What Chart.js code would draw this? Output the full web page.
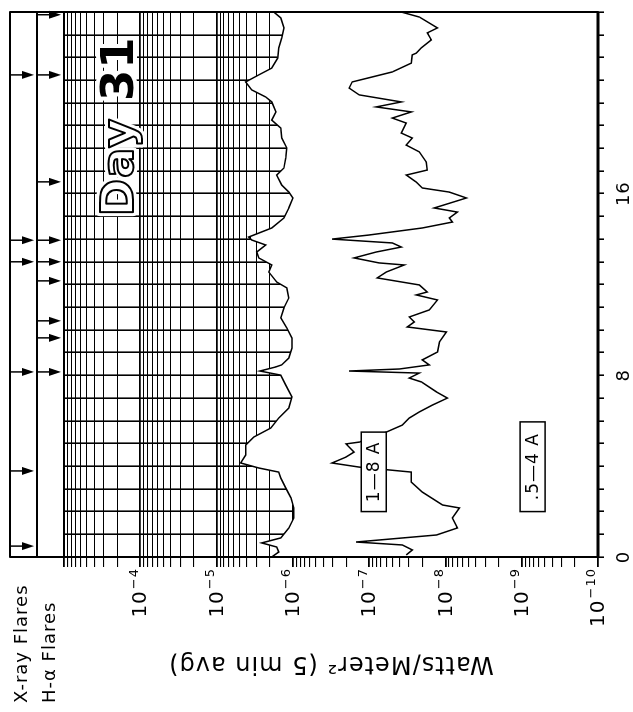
<!DOCTYPE html>
<html>
<head>
<meta charset="utf-8">
<script src="https://cdn.jsdelivr.net/npm/chart.js@4.4.0/dist/chart.umd.min.js"></script>
<style>
  html, body { margin: 0; padding: 0; background: #fff; overflow: hidden; }
  /* the plot is drawn the normal way and turned a quarter turn to the left */
  #wrap {
    position: absolute; left: 0; top: 0;
    width: 712px; height: 633px;
    transform-origin: 0 0;
    transform: translateY(712px) rotate(-90deg);
  }
</style>
</head>
<body>
<div id="wrap"><canvas id="goes" width="712" height="633"></canvas></div>
<script>
// upper trace (hours UT, W/m^2)
const upperHours = [0.0, 0.22, 0.44, 0.62, 0.84, 1.28, 1.72, 2.16, 2.60, 3.04, 3.48, 3.74, 3.92, 4.14, 4.49, 4.93, 5.28, 5.68, 6.12, 6.56, 7.05, 7.57, 8.01, 8.19, 8.37, 8.46, 8.76, 9.20, 9.64, 10.08, 10.53, 10.97, 11.41, 11.85, 12.11, 12.55, 12.86, 13.17, 13.43, 13.74, 13.96, 14.09, 14.49, 14.93, 15.37, 15.81, 16.07, 16.38, 16.82, 17.13, 17.57, 18.01, 18.45, 18.89, 19.24, 19.60, 20.04, 20.26, 20.57, 20.92, 21.23, 21.53, 21.97, 22.42, 22.86, 23.30, 23.74, 24.0];
const upperFlux = [1.89e-6, 1.53e-6, 1.63e-6, 2.56e-6, 1.44e-6, 1.13e-6, 9.7e-7, 9.7e-7, 1.06e-6, 1.24e-6, 1.44e-6, 1.53e-6, 2.80e-6, 4.83e-6, 4.15e-6, 4.15e-6, 3.26e-6, 1.95e-6, 1.53e-6, 1.13e-6, 1.03e-6, 1.24e-6, 1.44e-6, 2.7e-6, 1.67e-6, 1.40e-6, 1.13e-6, 1.03e-6, 1.03e-6, 1.20e-6, 1.44e-6, 1.31e-6, 1.13e-6, 1.20e-6, 1.63e-6, 2.07e-6, 1.89e-6, 2.80e-6, 2.98e-6, 2.27e-6, 3.46e-6, 3.79e-6, 1.89e-6, 1.31e-6, 1.13e-6, 1.0e-6, 1.13e-6, 1.40e-6, 1.63e-6, 1.31e-6, 1.24e-6, 1.20e-6, 1.40e-6, 1.44e-6, 1.89e-6, 1.67e-6, 1.89e-6, 2.27e-6, 3.46e-6, 4.15e-6, 2.80e-6, 1.89e-6, 1.58e-6, 1.53e-6, 1.40e-6, 1.31e-6, 1.44e-6, 1.78e-6];

// lower trace
const lowerHours = [0.09, 0.31, 0.53, 0.66, 0.97, 1.28, 1.72, 2.16, 2.29, 2.86, 3.30, 3.74, 3.96, 4.14, 4.40, 4.62, 4.98, 5.06, 5.50, 5.81, 6.12, 6.39, 6.69, 7.00, 7.27, 7.71, 7.88, 8.10, 8.19, 8.28, 8.46, 8.68, 9.03, 9.47, 9.91, 10.13, 10.35, 10.57, 10.88, 11.32, 11.54, 11.67, 11.98, 12.29, 12.55, 12.86, 12.95, 13.17, 13.43, 13.65, 13.83, 14.0, 14.18, 14.49, 14.75, 14.93, 15.19, 15.37, 15.81, 16.07, 16.25, 16.51, 16.82, 17.04, 17.39, 17.84, 18.14, 18.45, 18.67, 19.11, 19.33, 19.60, 19.82, 20.04, 20.35, 20.65, 20.92, 21.14, 21.36, 21.75, 22.11, 22.19, 22.42, 22.77, 23.08, 23.30, 23.78, 24.0];
const lowerFlux = [3.26e-8, 2.72e-8, 3.68e-8, 1.48e-7, 1.31e-8, 6.95e-9, 8.1e-9, 6.55e-9, 1.09e-8, 2.01e-8, 2.80e-8, 2.80e-8, 1.35e-7, 3.07e-7, 2.01e-7, 1.58e-7, 2.01e-7, 1.35e-7, 5.97e-8, 3.68e-8, 2.98e-8, 2.2e-8, 1.48e-8, 9.4e-9, 1.31e-8, 2.07e-8, 2.98e-8, 2.2e-8, 1.83e-7, 4.0e-8, 1.63e-8, 2.01e-8, 1.27e-8, 1.20e-8, 9.7e-9, 3.16e-8, 2.56e-8, 2.98e-8, 1.63e-8, 1.27e-8, 2.41e-8, 1.73e-8, 2.2e-8, 7.85e-8, 5.97e-8, 3.46e-8, 7.4e-8, 1.58e-7, 8.1e-8, 3.79e-8, 4.98e-8, 3.07e-7, 1.0e-7, 2.01e-8, 8.1e-9, 8.9e-9, 6.95e-9, 1.40e-8, 5.3e-9, 8.9e-9, 2.01e-8, 2.41e-8, 3.26e-8, 1.73e-8, 1.78e-8, 2.2e-8, 3.26e-8, 2.72e-8, 3.79e-8, 3.26e-8, 4.98e-8, 2.80e-8, 8.1e-8, 3.79e-8, 1.35e-7, 1.83e-7, 1.67e-7, 9.1e-8, 4.98e-8, 2.80e-8, 2.72e-8, 2.41e-8, 2.07e-8, 1.53e-8, 1.73e-8, 1.27e-8, 2.2e-8, 3.79e-8];

// flare reports (hours UT)
const xrayFlareHours = [0.48, 3.79, 8.15, 13.0, 13.95, 21.23];
const haFlareHours = [8.15, 9.65, 10.4, 12.16, 13.0, 13.95, 16.52, 21.23, 23.88];

// axis ticks
const fluxPowers = [-10, -9, -8, -7, -6, -5, -4, -3];
const labelledPowers = [-10, -9, -8, -7, -6, -5, -4];
const hourLabels = [0, 8, 16];

function isDecade(v) {
  const l = Math.log10(v);
  return Math.abs(l - Math.round(l)) < 1e-6;
}

function drawArrow(ctx, u, v0, v1) {
  ctx.beginPath();
  ctx.moveTo(u, v0);
  ctx.lineTo(u, v1 - 10);
  ctx.stroke();
  ctx.beginPath();
  ctx.moveTo(u - 4, v1 - 12);
  ctx.lineTo(u + 4, v1 - 12);
  ctx.lineTo(u, v1);
  ctx.closePath();
  ctx.fill();
}

function labelBox(ctx, u0, u1, v, text) {
  const h = 25;
  ctx.fillStyle = '#fff';
  ctx.fillRect(u0, v - h / 2, u1 - u0, h);
  ctx.strokeStyle = '#000';
  ctx.lineWidth = 1.5;
  ctx.strokeRect(u0, v - h / 2, u1 - u0, h);
  ctx.fillStyle = '#000';
  ctx.font = '17px "DejaVu Sans"';
  ctx.textAlign = 'center';
  ctx.textBaseline = 'middle';
  ctx.fillText(text, (u0 + u1) / 2, v + 1);
}

const spacing = {
  id: 'spacing',
  beforeDraw(chart) { chart.ctx.letterSpacing = '1px'; }
};

// frame, flare rows, band labels, power labels and the day stamp
const overlay = {
  id: 'overlay',
  afterDatasetsDraw(chart) {
    const { ctx, chartArea: a, scales: { x, y } } = chart;
    ctx.save();

    labelBox(ctx, x.getPixelForValue(2.0), x.getPixelForValue(5.5), y.getPixelForValue(8.7e-8), '1\u20148 A');
    labelBox(ctx, x.getPixelForValue(2.0), x.getPixelForValue(5.95), y.getPixelForValue(7.2e-10), '.5\u20144 A');

    // Day 31
    ctx.font = 'bold 45px "DejaVu Sans"';
    ctx.textAlign = 'left';
    ctx.textBaseline = 'alphabetic';
    ctx.lineJoin = 'round';
    const u = x.getPixelForValue(15.0), v = a.top + 69;
    ctx.strokeStyle = '#fff';
    ctx.lineWidth = 8;
    ctx.strokeText('Day 31', u, v);
    ctx.fillStyle = '#fff';
    ctx.fillText('Day', u, v);
    ctx.strokeStyle = '#000';
    ctx.lineWidth = 2;
    ctx.strokeText('Day', u, v);
    ctx.fillStyle = '#000';
    ctx.fillText('31', u + ctx.measureText('Day ').width, v);

    // frame
    ctx.strokeStyle = '#000';
    ctx.lineWidth = 2;
    ctx.strokeRect(a.left, a.top, a.right - a.left, a.bottom - a.top);
    ctx.lineWidth = 3;
    ctx.beginPath();
    ctx.moveTo(a.left, a.bottom);
    ctx.lineTo(a.right, a.bottom);
    ctx.stroke();

    // flare rows
    ctx.lineWidth = 2;
    ctx.strokeRect(a.left, 10, a.right - a.left, a.top - 10);
    ctx.beginPath();
    ctx.moveTo(a.left, 37);
    ctx.lineTo(a.right, 37);
    ctx.stroke();
    ctx.lineWidth = 1.5;
    ctx.fillStyle = '#000';
    xrayFlareHours.forEach(h => drawArrow(ctx, x.getPixelForValue(h), 11, 34));
    haFlareHours.forEach(h => drawArrow(ctx, x.getPixelForValue(h), 38, 61));

    ctx.font = '18px "DejaVu Sans"';
    ctx.textAlign = 'left';
    ctx.textBaseline = 'middle';
    ctx.fillText('X-ray Flares', 9, 22);
    ctx.fillText('H-\u03B1 Flares', 9, 50);

    // power-of-ten labels on the flux axis
    const end = a.left - 11;
    labelledPowers.forEach(e => {
      const pv = y.getPixelForValue(Math.pow(10, e));
      ctx.textAlign = 'right';
      ctx.textBaseline = 'middle';
      ctx.font = '13px "DejaVu Sans"';
      const exp = '\u2212' + String(-e);
      const w = ctx.measureText(exp).width;
      ctx.fillText(exp, end, pv - 6);
      ctx.font = '20px "DejaVu Sans"';
      ctx.fillText('10', end - w - 1, pv + 1);
    });
    ctx.restore();
  }
};

Chart.defaults.font.family = '"DejaVu Sans", sans-serif';
Chart.defaults.color = '#000';

new Chart(document.getElementById('goes'), {
  type: 'line',
  data: {
    datasets: [
      {
        label: 'lower',
        data: lowerHours.map((h, i) => ({ x: h, y: lowerFlux[i] })),
        borderColor: '#000',
        borderWidth: 1.5,
        pointRadius: 0,
        fill: false
      },
      {
        label: 'upper',
        data: upperHours.map((h, i) => ({ x: h, y: upperFlux[i] })),
        borderColor: '#000',
        borderWidth: 1.5,
        pointRadius: 0,
        backgroundColor: '#fff',
        fill: { value: 1e-10 }
      }
    ]
  },
  options: {
    responsive: false,
    animation: false,
    devicePixelRatio: 1,
    layout: { padding: { top: 64, right: 12, left: 0, bottom: 0 } },
    plugins: { legend: { display: false }, tooltip: { enabled: false } },
    scales: {
      x: {
        type: 'linear',
        min: 0,
        max: 24,
        afterFit: (scale) => { scale.height = 35; },
        grid: { color: '#000', lineWidth: 1.6, tickLength: 6 },
        border: { display: false },
        ticks: {
          stepSize: 1,
          autoSkip: false,
          maxRotation: 0,
          padding: 10,
          font: { size: 18 },
          callback: (v) => hourLabels.includes(v) ? String(v) : ''
        }
      },
      y: {
        type: 'logarithmic',
        min: 1e-10,
        max: 1e-3,
        afterFit: (scale) => { scale.width = 155; },
        afterBuildTicks: (scale) => {
          const ticks = [];
          fluxPowers.forEach(e => {
            for (let m = 1; m <= 9; m++) {
              if (e === -3 && m > 1) break;
              ticks.push({ value: m * Math.pow(10, e) });
            }
          });
          scale.ticks = ticks;
        },
        grid: {
          color: '#000',
          tickLength: 10,
          lineWidth: (c) => (c.tick && isDecade(c.tick.value)) ? 1.8 : 1.1
        },
        border: { display: false },
        ticks: {
          autoSkip: false,
          padding: 2,
          callback: () => ''
        },
        title: {
          display: true,
          text: 'Watts/Meter\u00B2 (5 min avg)',
          font: { size: 24 },
          padding: { top: 34, bottom: 0 }
        }
      }
    }
  },
  plugins: [spacing, overlay]
});
</script>
</body>
</html>
